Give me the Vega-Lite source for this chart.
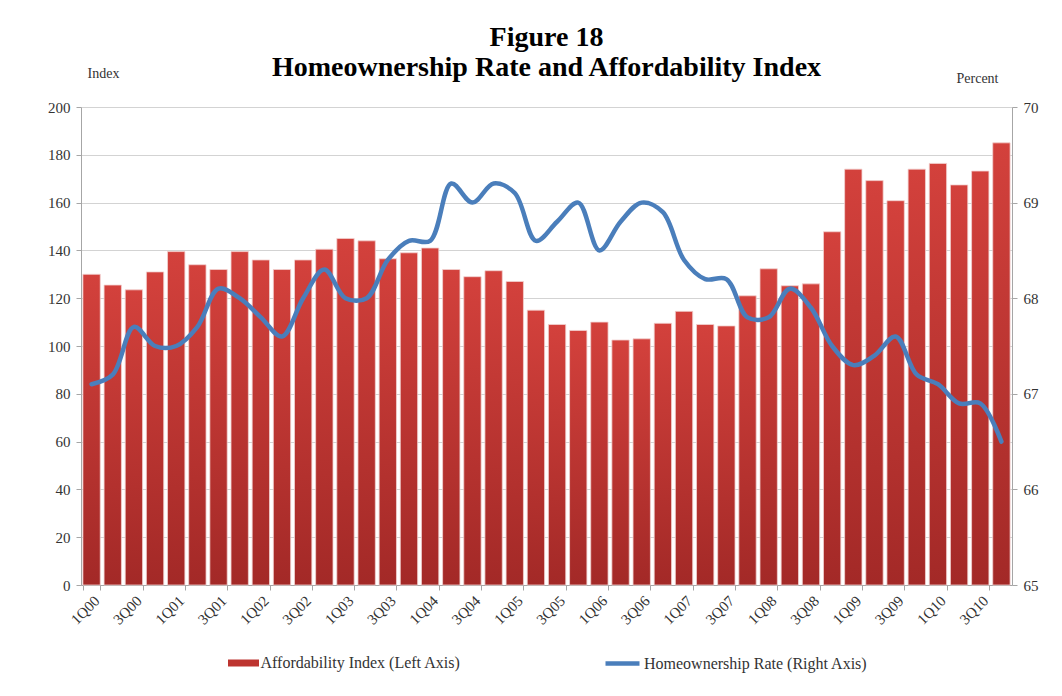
{
  "$schema": "https://vega.github.io/schema/vega-lite/v6.json",
  "autosize": {"type": "none"},
  "width": 931,
  "height": 478,
  "padding": {"left": 81, "top": 107, "right": 50, "bottom": 111},
  "background": "white",
  "config": {
    "view": {"stroke": null},
    "font": "Liberation Serif",
    "axis": {
      "labelFont": "Liberation Serif",
      "titleFont": "Liberation Serif",
      "labelFontSize": 15,
      "labelColor": "#333333",
      "titleColor": "#333333",
      "titleFontWeight": "normal",
      "titleFontSize": 14,
      "domainColor": "#a6a6a6",
      "tickColor": "#a6a6a6",
      "gridColor": "#d3d3d3"
    },
    "legend": {
      "labelFont": "Liberation Serif",
      "labelFontSize": 16,
      "labelColor": "#333333",
      "labelLimit": 400
    }
  },
  "title": {
    "text": ["Figure 18", "Homeownership Rate and Affordability Index"],
    "font": "Liberation Serif",
    "fontSize": 28,
    "fontWeight": "bold",
    "lineHeight": 30,
    "color": "#000000",
    "anchor": "middle",
    "frame": "group",
    "offset": -16
  },
  "data": {
    "values": [
      {"q": "1Q00", "afford": 130, "rate": 67.1},
      {"q": "2Q00", "afford": 125.5, "rate": 67.2},
      {"q": "3Q00", "afford": 123.5, "rate": 67.7},
      {"q": "4Q00", "afford": 131, "rate": 67.5},
      {"q": "1Q01", "afford": 139.5, "rate": 67.5},
      {"q": "2Q01", "afford": 134, "rate": 67.7},
      {"q": "3Q01", "afford": 132, "rate": 68.1},
      {"q": "4Q01", "afford": 139.5, "rate": 68.0},
      {"q": "1Q02", "afford": 136, "rate": 67.8},
      {"q": "2Q02", "afford": 132, "rate": 67.6},
      {"q": "3Q02", "afford": 136, "rate": 68.0},
      {"q": "4Q02", "afford": 140.5, "rate": 68.3},
      {"q": "1Q03", "afford": 145, "rate": 68.0},
      {"q": "2Q03", "afford": 144, "rate": 68.0},
      {"q": "3Q03", "afford": 136.5, "rate": 68.4},
      {"q": "4Q03", "afford": 139, "rate": 68.6},
      {"q": "1Q04", "afford": 141, "rate": 68.6},
      {"q": "2Q04", "afford": 132, "rate": 69.2},
      {"q": "3Q04", "afford": 129, "rate": 69.0},
      {"q": "4Q04", "afford": 131.5, "rate": 69.2},
      {"q": "1Q05", "afford": 127, "rate": 69.1},
      {"q": "2Q05", "afford": 115, "rate": 68.6},
      {"q": "3Q05", "afford": 109, "rate": 68.8},
      {"q": "4Q05", "afford": 106.5, "rate": 69.0},
      {"q": "1Q06", "afford": 110, "rate": 68.5},
      {"q": "2Q06", "afford": 102.5, "rate": 68.8},
      {"q": "3Q06", "afford": 103, "rate": 69.0},
      {"q": "4Q06", "afford": 109.5, "rate": 68.9},
      {"q": "1Q07", "afford": 114.5, "rate": 68.4},
      {"q": "2Q07", "afford": 109, "rate": 68.2},
      {"q": "3Q07", "afford": 108.4, "rate": 68.2},
      {"q": "4Q07", "afford": 121, "rate": 67.8},
      {"q": "1Q08", "afford": 132.3, "rate": 67.8},
      {"q": "2Q08", "afford": 125.2, "rate": 68.1},
      {"q": "3Q08", "afford": 126, "rate": 67.9},
      {"q": "4Q08", "afford": 147.8, "rate": 67.5},
      {"q": "1Q09", "afford": 174, "rate": 67.3},
      {"q": "2Q09", "afford": 169.2, "rate": 67.4},
      {"q": "3Q09", "afford": 160.8, "rate": 67.6},
      {"q": "4Q09", "afford": 174, "rate": 67.2},
      {"q": "1Q10", "afford": 176.4, "rate": 67.1},
      {"q": "2Q10", "afford": 167.4, "rate": 66.9},
      {"q": "3Q10", "afford": 173.2, "rate": 66.9},
      {"q": "4Q10", "afford": 185, "rate": 66.5}
    ]
  },
  "encoding": {
    "x": {
      "field": "q",
      "type": "ordinal",
      "sort": null,
      "scale": {"paddingInner": 0.18, "paddingOuter": 0.09},
      "axis": {
        "title": null,
        "values": ["1Q00","3Q00","1Q01","3Q01","1Q02","3Q02","1Q03","3Q03","1Q04","3Q04","1Q05","3Q05","1Q06","3Q06","1Q07","3Q07","1Q08","3Q08","1Q09","3Q09","1Q10","3Q10"],
        "labelAngle": -45,
        "labelFontSize": 15,
        "tickBand": "extent",
        "tickSize": 5,
        "labelPadding": 3,
        "grid": false
      }
    }
  },
  "layer": [
    {
      "mark": {"type": "bar", "stroke": "#f2d2d0", "strokeWidth": 0.8},
      "encoding": {
        "y": {
          "field": "afford",
          "type": "quantitative",
          "scale": {"domain": [0, 200]},
          "axis": {
            "values": [0,20,40,60,80,100,120,140,160,180,200],
            "title": "Index",
            "titleAngle": 0,
            "titleX": 22,
            "titleY": -27,
            "titleAlign": "center",
            "grid": true,
            "tickSize": 5,
            "labelPadding": 6
          }
        },
        "fill": {
          "condition": {"test": "true", "value": {"gradient": "linear", "x1": 0, "y1": 0, "x2": 0, "y2": 1, "stops": [{"offset": 0, "color": "#d3413c"}, {"offset": 1, "color": "#a32927"}]}},
          "datum": "Affordability Index (Left Axis)",
          "scale": {"range": ["#bd3430"]},
          "legend": {
            "title": null,
            "orient": "none",
            "legendX": 152.5,
            "legendY": 546,
            "symbolType": "M-1.55,-0.35L1.55,-0.35L1.55,0.35L-1.55,0.35Z",
            "symbolSize": 400,
            "symbolStrokeWidth": 0,
            "labelOffset": 7
          }
        }
      }
    },
    {
      "mark": {"type": "line", "interpolate": "catmull-rom", "strokeWidth": 4.5, "strokeCap": "round"},
      "encoding": {
        "y": {
          "field": "rate",
          "type": "quantitative",
          "scale": {"domain": [65, 70], "zero": false},
          "axis": {
            "orient": "right",
            "values": [65,66,67,68,69,70],
            "title": "Percent",
            "titleAngle": 0,
            "titleX": -35,
            "titleY": -22,
            "titleAlign": "center",
            "grid": false,
            "tickSize": 5,
            "labelPadding": 6
          }
        },
        "stroke": {
          "datum": "Homeownership Rate (Right Axis)",
          "scale": {"range": ["#4a7ebb"]},
          "legend": {
            "title": null,
            "orient": "none",
            "legendX": 522,
            "legendY": 537,
            "symbolType": "stroke",
            "symbolSize": 1156,
            "symbolStrokeWidth": 4.5,
            "labelOffset": 2
          }
        }
      }
    }
  ],
  "resolve": {"scale": {"y": "independent"}}
}
